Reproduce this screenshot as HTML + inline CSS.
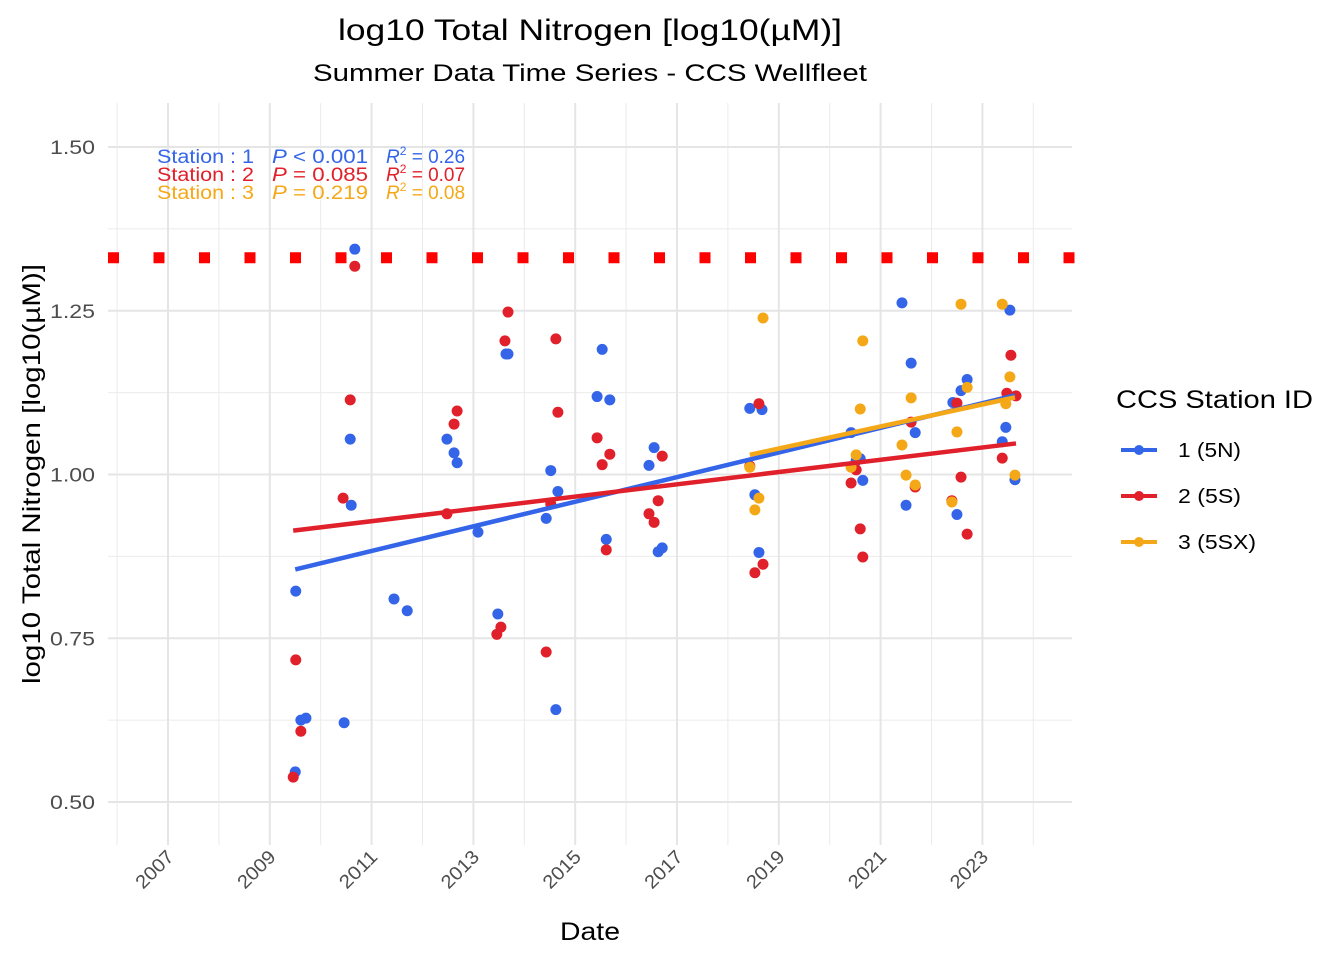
<!DOCTYPE html>
<html><head><meta charset="utf-8"><style>
body{margin:0;background:#fff}
svg text{font-family:"Liberation Sans",Arial,sans-serif}
</style></head><body>
<svg id="chart" width="1344" height="960" xmlns="http://www.w3.org/2000/svg">
<rect width="1344" height="960" fill="#fff"/>
<g id="grid"></g>
<g id="marks"></g>
<g id="axes"></g>
<text x="590" y="40" font-size="30" textLength="504" lengthAdjust="spacingAndGlyphs" text-anchor="middle" fill="#000">log10 Total Nitrogen [log10(µM)]</text>
<text x="590" y="81" font-size="24" textLength="554" lengthAdjust="spacingAndGlyphs" text-anchor="middle" fill="#000">Summer Data Time Series - CCS Wellfleet</text>
<text x="590" y="940" font-size="25" textLength="60" lengthAdjust="spacingAndGlyphs" text-anchor="middle" fill="#000">Date</text>
<text transform="translate(40,474) rotate(-90)" font-size="25" textLength="420" lengthAdjust="spacingAndGlyphs" text-anchor="middle" fill="#000">log10 Total Nitrogen [log10(µM)]</text>
<g font-size="19">
<g fill="#3465E8">
<text x="157" y="163" textLength="97" lengthAdjust="spacingAndGlyphs">Station : 1</text>
<text x="272" y="163" textLength="96" lengthAdjust="spacingAndGlyphs"><tspan font-style="italic">P</tspan> &lt; 0.001</text>
<text x="386" y="163"><tspan font-style="italic">R</tspan><tspan font-size="12" dy="-8">2</tspan><tspan dy="8"> = 0.26</tspan></text>
</g>
<g fill="#E0202A">
<text x="157" y="181" textLength="97" lengthAdjust="spacingAndGlyphs">Station : 2</text>
<text x="272" y="181" textLength="96" lengthAdjust="spacingAndGlyphs"><tspan font-style="italic">P</tspan> = 0.085</text>
<text x="386" y="181"><tspan font-style="italic">R</tspan><tspan font-size="12" dy="-8">2</tspan><tspan dy="8"> = 0.07</tspan></text>
</g>
<g fill="#F5A817">
<text x="157" y="199" textLength="97" lengthAdjust="spacingAndGlyphs">Station : 3</text>
<text x="272" y="199" textLength="96" lengthAdjust="spacingAndGlyphs"><tspan font-style="italic">P</tspan> = 0.219</text>
<text x="386" y="199"><tspan font-style="italic">R</tspan><tspan font-size="12" dy="-8">2</tspan><tspan dy="8"> = 0.08</tspan></text>
</g>
</g>
<g>
<text x="1116" y="408" font-size="25" textLength="197" lengthAdjust="spacingAndGlyphs" fill="#000">CCS Station ID</text>
<g><line x1="1121" y1="450" x2="1157" y2="450" stroke="#3465E8" stroke-width="4"/><circle cx="1139" cy="450" r="5" fill="#3465E8"/><text x="1178" y="457" font-size="20" textLength="63" lengthAdjust="spacingAndGlyphs">1 (5N)</text></g>
<g><line x1="1121" y1="496" x2="1157" y2="496" stroke="#E0202A" stroke-width="4"/><circle cx="1139" cy="496" r="5" fill="#E0202A"/><text x="1178" y="503" font-size="20" textLength="63" lengthAdjust="spacingAndGlyphs">2 (5S)</text></g>
<g><line x1="1121" y1="542" x2="1157" y2="542" stroke="#F5A817" stroke-width="4"/><circle cx="1139" cy="542" r="5" fill="#F5A817"/><text x="1178" y="549" font-size="20" textLength="78" lengthAdjust="spacingAndGlyphs">3 (5SX)</text></g>
</g>
</svg>
<script>
const yTicks=[0.50,0.75,1.00,1.25,1.50];
const yTickLabels=["0.50","0.75","1.00","1.25","1.50"];
const xTickYears=[2007,2009,2011,2013,2015,2017,2019,2021,2023];
const xTickLabels=["2007","2009","2011","2013","2015","2017","2019","2021","2023"];
const thresholdValue=1.331;
const s1Years=[2009.50,2009.51,2009.61,2009.71,2010.46,2010.58,2010.60,2010.67,2011.44,2011.70,2012.48,2012.62,2012.68,2013.09,2013.48,2013.64,2013.68,2014.43,2014.52,2014.62,2014.66,2015.43,2015.53,2015.61,2015.68,2016.45,2016.55,2016.63,2016.71,2018.43,2018.53,2018.61,2018.67,2020.42,2020.52,2020.60,2020.65,2021.42,2021.50,2021.60,2021.68,2022.42,2022.50,2022.58,2022.70,2023.39,2023.46,2023.54,2023.64];
const s1Values=[0.546,0.822,0.625,0.628,0.621,1.054,0.953,1.344,0.810,0.792,1.054,1.033,1.018,0.912,0.787,1.184,1.184,0.933,1.006,0.641,0.974,1.119,1.191,0.901,1.114,1.014,1.041,0.882,0.888,1.101,0.969,0.881,1.099,1.064,1.021,1.024,0.991,1.262,0.953,1.170,1.064,1.110,0.939,1.128,1.145,1.050,1.072,1.251,0.992];
const s2Years=[2009.46,2009.51,2009.61,2010.44,2010.58,2010.67,2012.48,2012.62,2012.68,2013.46,2013.54,2013.62,2013.68,2014.43,2014.52,2014.62,2014.66,2015.43,2015.53,2015.61,2015.68,2016.45,2016.55,2016.63,2016.71,2018.43,2018.53,2018.61,2018.69,2020.42,2020.52,2020.60,2020.65,2021.60,2021.68,2022.40,2022.50,2022.58,2022.70,2023.39,2023.48,2023.56,2023.66];
const s2Values=[0.538,0.717,0.608,0.964,1.114,1.318,0.940,1.077,1.097,0.756,0.767,1.204,1.248,0.729,0.955,1.207,1.095,1.056,1.015,0.885,1.031,0.940,0.927,0.960,1.028,1.013,0.850,1.108,0.863,0.987,1.007,0.917,0.874,1.080,0.981,0.960,1.109,0.996,0.909,1.025,1.124,1.182,1.120];
const s3Years=[2018.43,2018.53,2018.61,2018.69,2020.42,2020.52,2020.60,2020.65,2021.42,2021.50,2021.60,2021.68,2022.40,2022.50,2022.58,2022.70,2023.39,2023.46,2023.54,2023.64];
const s3Values=[1.011,0.946,0.964,1.239,1.011,1.030,1.100,1.204,1.045,0.999,1.117,0.984,0.958,1.065,1.260,1.133,1.260,1.108,1.149,0.999];
const NS="http://www.w3.org/2000/svg";
const L=108,R=1072,T=103,B=845;
function xs(t){return 168+(t-2007)*50.9;}
function ys(v){return 802-(v-0.5)*655;}
function mk(tag,attrs,parent){const e=document.createElementNS(NS,tag);for(const k in attrs)e.setAttribute(k,attrs[k]);parent.appendChild(e);return e;}
const grid=document.getElementById('grid'),marks=document.getElementById('marks'),axes=document.getElementById('axes');
for(let i=0;i<yTicks.length-1;i++){const v=(yTicks[i]+yTicks[i+1])/2;const l=mk('line',{x1:L,x2:R,y1:ys(v),y2:ys(v),stroke:'#ebebeb','stroke-width':1},grid);

}
for(let i=0;i<xTickYears.length;i++){const t=xTickYears[i]-1;const l=mk('line',{x1:xs(t),x2:xs(t),y1:T,y2:B,stroke:'#ebebeb','stroke-width':1},grid);

}
{const t=xTickYears[xTickYears.length-1]+1;const l=mk('line',{x1:xs(t),x2:xs(t),y1:T,y2:B,stroke:'#ebebeb','stroke-width':1},grid);

}
yTicks.forEach((v,i)=>{const l=mk('line',{x1:L,x2:R,y1:ys(v),y2:ys(v),stroke:'#e5e5e5','stroke-width':2},grid);


const tx=mk('text',{x:95,y:ys(v)+7,'font-size':19,textLength:45,lengthAdjust:'spacingAndGlyphs','text-anchor':'end',fill:'#4d4d4d'},axes);tx.textContent=yTickLabels[i];

});
xTickYears.forEach((t,i)=>{const l=mk('line',{x1:xs(t),x2:xs(t),y1:T,y2:B,stroke:'#e5e5e5','stroke-width':2},grid);


const tx=mk('text',{transform:`translate(${xs(t)+7},${858}) rotate(-45)`,'font-size':19,textLength:45,lengthAdjust:'spacingAndGlyphs','text-anchor':'end',fill:'#4d4d4d'},axes);tx.textContent=xTickLabels[i];

});
const th=mk('line',{x1:108,x2:1080,y1:ys(thresholdValue),y2:ys(thresholdValue),stroke:'#ff0000','stroke-width':11,'stroke-dasharray':'11 34.5'},marks);


const series=[[s1Years,s1Values,'#3465E8','1'],[s2Years,s2Values,'#E0202A','2'],[s3Years,s3Values,'#F5A817','3']];
series.forEach(([xsA,vs,c,id])=>{xsA.forEach((t,i)=>{const p=mk('circle',{cx:xs(t),cy:ys(vs[i]),r:5.5,fill:c},marks);

});});
series.forEach(([xsA,vs,c,id])=>{const n=xsA.length;let mx=0,my=0;for(let i=0;i<n;i++){mx+=xsA[i];my+=vs[i];}mx/=n;my/=n;let sxy=0,sxx=0;for(let i=0;i<n;i++){sxy+=(xsA[i]-mx)*(vs[i]-my);sxx+=(xsA[i]-mx)**2;}const b=sxy/sxx;const x0=Math.min(...xsA),x1=Math.max(...xsA);
const l=mk('line',{x1:xs(x0),y1:ys(my+b*(x0-mx)),x2:xs(x1),y2:ys(my+b*(x1-mx)),stroke:c,'stroke-width':4.5},marks);

});
</script>
</body></html>
